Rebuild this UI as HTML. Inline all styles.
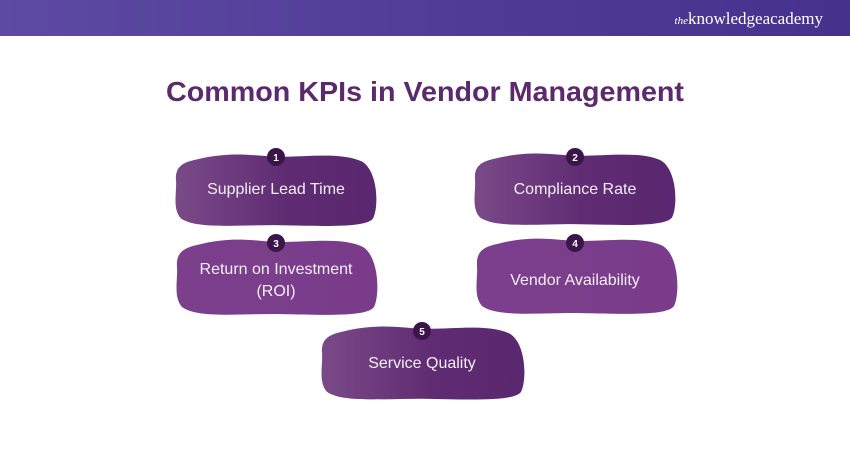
<!DOCTYPE html>
<html><head><meta charset="utf-8"><style>
html,body{margin:0;padding:0;background:#fff;}
svg{display:block;}
</style></head><body>
<svg width="850" height="450" viewBox="0 0 850 450" xmlns="http://www.w3.org/2000/svg" font-family="Liberation Sans, sans-serif">
<defs>
<linearGradient id="hdr" x1="0" x2="1" y1="0" y2="0"><stop offset="0" stop-color="#5d4aa3"/><stop offset="1" stop-color="#46318c"/></linearGradient>
<linearGradient id="dk" x1="0" x2="1" y1="0" y2="0"><stop offset="0" stop-color="#7a4a88"/><stop offset="0.55" stop-color="#5f2b72"/><stop offset="1" stop-color="#5a2870"/></linearGradient>
<linearGradient id="lt" x1="0" x2="1"><stop offset="0" stop-color="#7b3f8c"/><stop offset="1" stop-color="#7a3c8a"/></linearGradient>
<path id="blob" d="M22,8 C60,-2 85,5 105,5 C135,5 168,0 188,10 C204,20 205,58 199,70 C192,80 150,78 100,77 C60,77 22,81 7,70 C-2,60 3,42 2,30 C1,16 8,11 22,8 Z"/>
</defs>
<rect x="0" y="0" width="850" height="36" fill="url(#hdr)"/>
<text x="823" y="24" text-anchor="end" font-family="Liberation Serif, serif" font-size="17" fill="#fff"><tspan font-style="italic" font-size="11">the</tspan>knowledgeacademy</text>
<text x="166" y="101" font-size="28" font-weight="bold" fill="#5a2a6c" textLength="518" lengthAdjust="spacingAndGlyphs">Common KPIs in Vendor Management</text>

<g transform="translate(174,152) scale(1.0,0.95)"><use href="#blob" fill="url(#dk)"/></g>
<g transform="translate(473,151) scale(1.0,0.95)"><use href="#blob" fill="url(#dk)"/></g>
<g transform="translate(175,237) scale(1.0,1.0)"><use href="#blob" fill="url(#lt)"/></g>
<g transform="translate(475,236) scale(1.0,1.0)"><use href="#blob" fill="url(#lt)"/></g>
<g transform="translate(320,324) scale(1.01,0.97)"><use href="#blob" fill="url(#dk)"/></g>

<g font-size="16" fill="#f4eef6" text-anchor="middle">
<text x="276" y="194">Supplier Lead Time</text>
<text x="575" y="194">Compliance Rate</text>
<text x="276" y="274">Return on Investment</text>
<text x="276" y="296">(ROI)</text>
<text x="575" y="285">Vendor Availability</text>
<text x="422" y="368">Service Quality</text>
</g>
<g fill="#3b1549">
<circle cx="276" cy="157" r="9"/><circle cx="575" cy="157" r="9"/>
<circle cx="276" cy="243" r="9"/><circle cx="575" cy="243" r="9"/>
<circle cx="422" cy="331" r="9"/>
</g>
<g font-size="10" font-weight="bold" fill="#fff" text-anchor="middle">
<text x="276" y="161">1</text><text x="575" y="161">2</text>
<text x="276" y="247">3</text><text x="575" y="247">4</text>
<text x="422" y="335">5</text>
</g>
</svg>
</body></html>
